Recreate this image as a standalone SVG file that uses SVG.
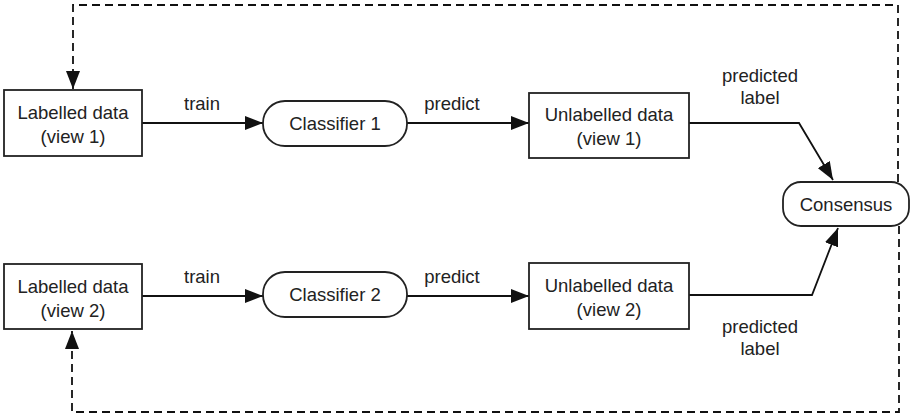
<svg xmlns="http://www.w3.org/2000/svg" width="912" height="415" viewBox="0 0 912 415">
<defs>
<marker id="ah" markerUnits="userSpaceOnUse" markerWidth="20" markerHeight="14" refX="18" refY="7" orient="auto">
<path d="M0,0 L18,7 L0,14 Z" fill="#111"/>
</marker>
<style>
.box{fill:#fff;stroke:#222;stroke-width:1.8}
.t{font-family:"Liberation Sans",Arial,sans-serif;font-size:18.5px;fill:#222;text-anchor:middle}
.c{fill:none;stroke:#111;stroke-width:1.8}
.d{fill:none;stroke:#111;stroke-width:1.8;stroke-dasharray:8,5}
</style>
</defs>
<g id="connectors">
<path class="d" d="M898,182 L898,5 L73,5 L73,89" marker-end="url(#ah)"/>
<path class="d" d="M899,226 L899,412 L72,412 L72,331" marker-end="url(#ah)"/>
<path class="c" d="M142,123 L263,123" marker-end="url(#ah)"/>
<path class="c" d="M407,123 L529,123" marker-end="url(#ah)"/>
<path class="c" d="M142,296 L263,296" marker-end="url(#ah)"/>
<path class="c" d="M407,296 L529,296" marker-end="url(#ah)"/>
<path class="c" d="M689,123 L799,123 L833,180" marker-end="url(#ah)"/>
<path class="c" d="M689,295 L812,295 L838,228" marker-end="url(#ah)"/>
<text class="t" x="202" y="110">train</text>
<text class="t" x="452" y="110">predict</text>
<text class="t" x="202" y="283">train</text>
<text class="t" x="452" y="283">predict</text>
<text class="t" x="760" y="82">predicted</text>
<text class="t" x="760" y="104">label</text>
<text class="t" x="760" y="333">predicted</text>
<text class="t" x="760" y="355">label</text>
</g>
<g id="lab1">
<rect class="box" x="4" y="90" width="138" height="66"/>
<text class="t" x="73" y="119">Labelled data</text>
<text class="t" x="73" y="143">(view 1)</text>
</g>
<g id="lab2">
<rect class="box" x="4" y="264" width="138" height="65"/>
<text class="t" x="73" y="293">Labelled data</text>
<text class="t" x="73" y="317">(view 2)</text>
</g>
<g id="cls1">
<rect class="box" x="263" y="101" width="144" height="45" rx="22" ry="22"/>
<text class="t" x="335" y="130">Classifier 1</text>
</g>
<g id="cls2">
<rect class="box" x="263" y="272" width="144" height="45" rx="22" ry="22"/>
<text class="t" x="335" y="301">Classifier 2</text>
</g>
<g id="unl1">
<rect class="box" x="529" y="93" width="160" height="65"/>
<text class="t" x="609" y="121">Unlabelled data</text>
<text class="t" x="609" y="145">(view 1)</text>
</g>
<g id="unl2">
<rect class="box" x="529" y="263" width="160" height="66"/>
<text class="t" x="609" y="292">Unlabelled data</text>
<text class="t" x="609" y="316">(view 2)</text>
</g>
<g id="consensus">
<rect class="box" x="783" y="182" width="126" height="44" rx="18" ry="18"/>
<text class="t" x="846" y="211">Consensus</text>
</g>
</svg>
